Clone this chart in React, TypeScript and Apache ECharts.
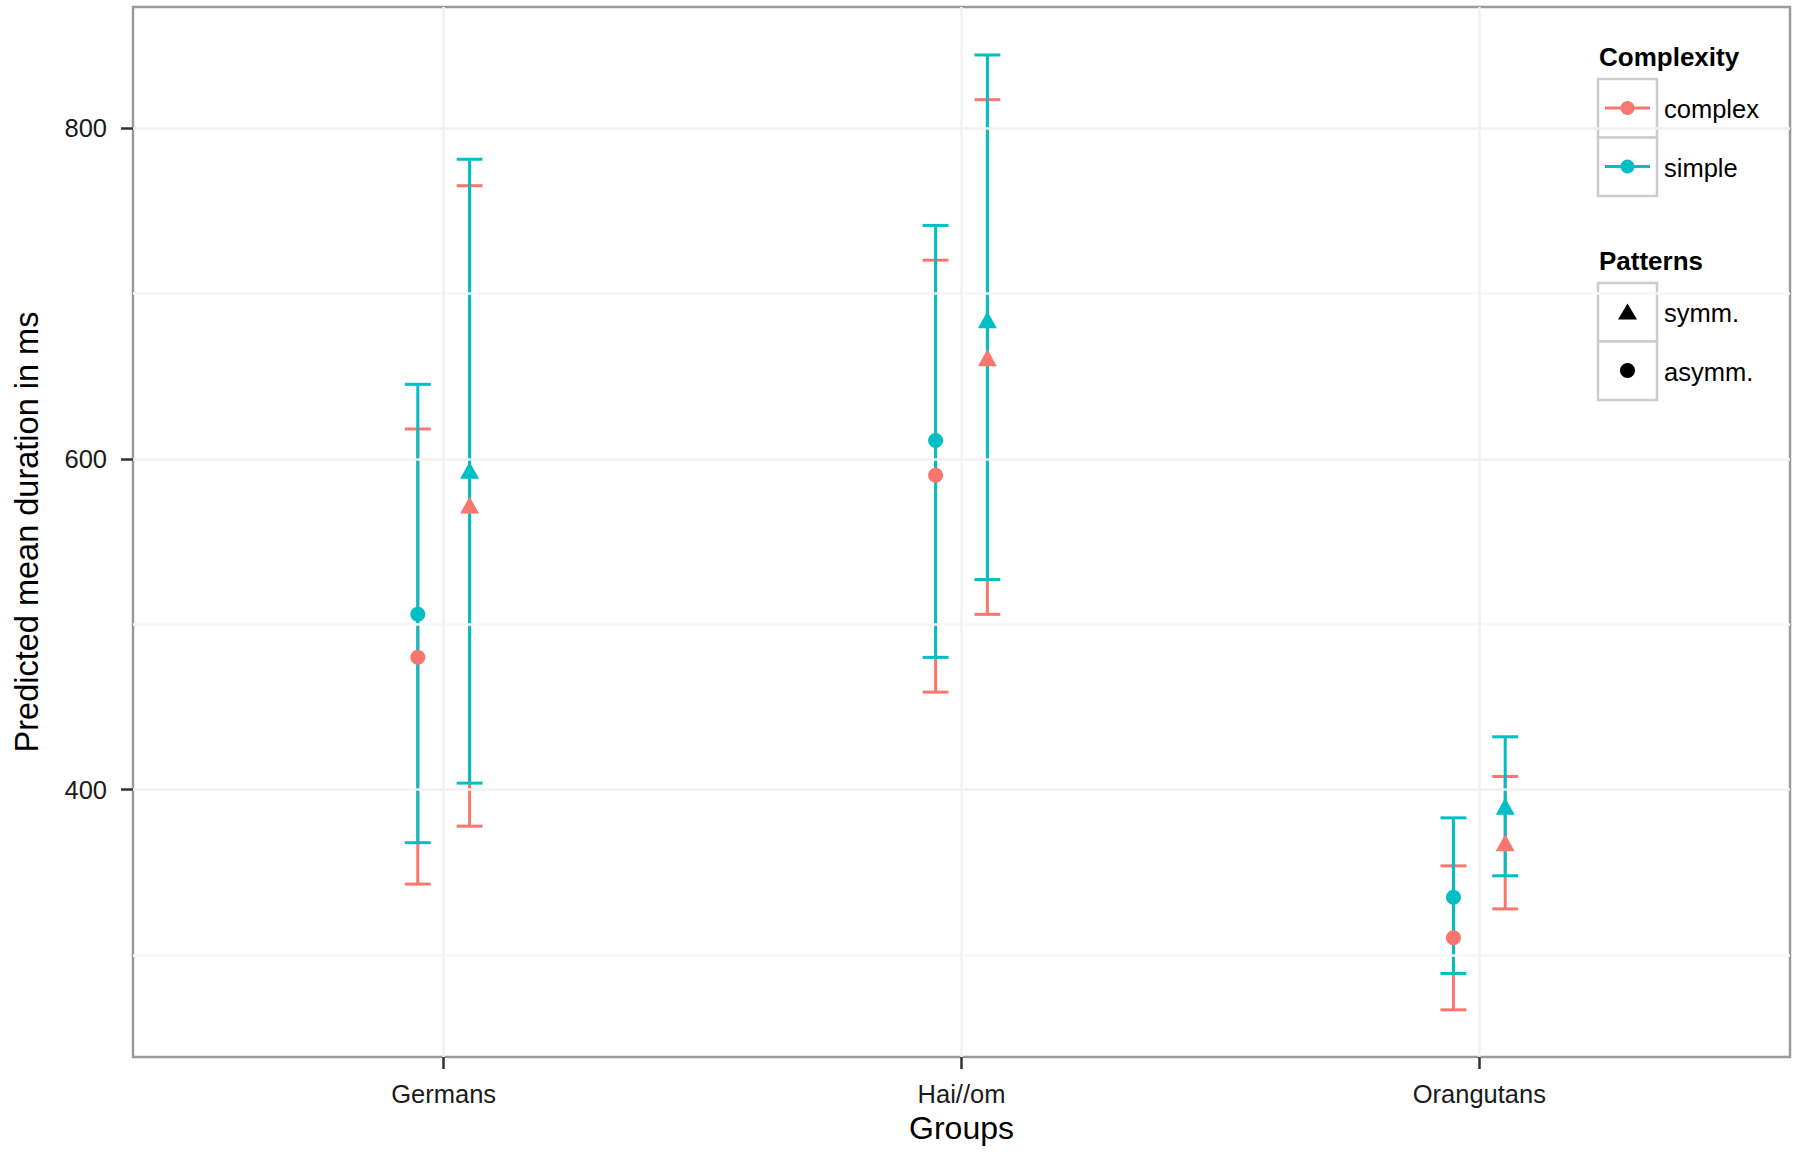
import React, { useEffect, useRef } from "react";
import * as echarts from "echarts";

// ---- Data ----
const groups = ["Germans", "Hai//om", "Orangutans"];
const groupPositions = [1, 2, 3];
const yTicks = [400, 600, 800];
const yMinorTicks = [300, 500, 700];

const complexAsymmMean = [480, 590, 310.5];
const complexAsymmLower = [343, 459, 267];
const complexAsymmUpper = [618, 720, 354];

const complexSymmMean = [572, 661, 368];
const complexSymmLower = [378, 506, 328];
const complexSymmUpper = [765, 817, 408];

const simpleAsymmMean = [506, 611, 335];
const simpleAsymmLower = [368, 480, 289];
const simpleAsymmUpper = [645, 741, 383];

const simpleSymmMean = [593, 684, 390];
const simpleSymmLower = [404, 527, 348];
const simpleSymmUpper = [781, 844, 432];

const DODGE = 0.05; // position_dodge offset (category units)
const CAP = 0.05; // error bar cap width (category units)

const RED = "#F8766D";
const TEAL = "#00BFC4";
const FONT = "Liberation Sans, Arial, Helvetica, sans-serif";

function errData(lower: number[], upper: number[], off: number) {
  return groupPositions.map((g, i) => [g + off, lower[i], upper[i]]);
}
function ptData(mean: number[], off: number) {
  return groupPositions.map((g, i) => [g + off, mean[i]]);
}

function errRender(color: string) {
  return (params: any, api: any) => {
    const x = api.value(0);
    const lo = api.coord([x, api.value(1)]);
    const hi = api.coord([x, api.value(2)]);
    const half = api.size([CAP / 2, 0])[0];
    const style = { stroke: color, lineWidth: 3, fill: null };
    return {
      type: "group",
      children: [
        { type: "line", shape: { x1: lo[0], y1: lo[1], x2: hi[0], y2: hi[1] }, style },
        { type: "line", shape: { x1: hi[0] - half, y1: hi[1], x2: hi[0] + half, y2: hi[1] }, style },
        { type: "line", shape: { x1: lo[0] - half, y1: lo[1], x2: lo[0] + half, y2: lo[1] }, style },
      ],
    };
  };
}

function errSeries(name: string, color: string, lower: number[], upper: number[], off: number) {
  return {
    type: "custom",
    name,
    renderItem: errRender(color),
    data: errData(lower, upper, off),
    z: 3,
    silent: true,
  };
}

function ptSeries(name: string, color: string, mean: number[], off: number, symbol: string) {
  return {
    type: "scatter",
    name,
    data: ptData(mean, off),
    symbol,
    symbolSize: symbol === "triangle" ? [19, 17] : 15,
    itemStyle: { color, opacity: 1 },
    z: 5,
    silent: true,
  };
}

function legendGraphics() {
  const keyX = 1598;
  const keyW = 59;
  const boxStyle = { fill: "#ffffff", stroke: "#cccccc", lineWidth: 2.5 };
  const titleStyle = { fontFamily: FONT, fontSize: 26, fontWeight: "bold", fill: "#000" };
  const textStyle = { fontFamily: FONT, fontSize: 25.5, fill: "#000" };
  const els: any[] = [];
  // Complexity
  els.push({ type: "text", x: 1599, y: 57, style: { ...titleStyle, text: "Complexity", verticalAlign: "middle" } });
  const compRows = [
    { label: "complex", color: RED, top: 79 },
    { label: "simple", color: TEAL, top: 137.5 },
  ];
  compRows.forEach((r) => {
    const cy = r.top + 29;
    els.push({ type: "rect", shape: { x: keyX, y: r.top, width: keyW, height: 58.5 }, style: boxStyle });
    els.push({ type: "line", shape: { x1: keyX + 7, y1: cy, x2: keyX + keyW - 7, y2: cy }, style: { stroke: r.color, lineWidth: 3 } });
    els.push({ type: "circle", shape: { cx: keyX + keyW / 2, cy, r: 7 }, style: { fill: r.color } });
    els.push({ type: "text", x: 1664, y: cy + 1, style: { ...textStyle, text: r.label, verticalAlign: "middle" } });
  });
  // Patterns
  els.push({ type: "text", x: 1599, y: 261, style: { ...titleStyle, text: "Patterns", verticalAlign: "middle" } });
  const patTops = [283, 341.5];
  const cx = keyX + keyW / 2;
  patTops.forEach((t) => {
    els.push({ type: "rect", shape: { x: keyX, y: t, width: keyW, height: 58.5 }, style: boxStyle });
  });
  const ty = patTops[0] + 29;
  els.push({
    type: "polygon",
    shape: { points: [[cx, ty - 8.5], [cx + 9.5, ty + 7.5], [cx - 9.5, ty + 7.5]] },
    style: { fill: "#000" },
  });
  els.push({ type: "text", x: 1664, y: ty + 1, style: { ...textStyle, text: "symm.", verticalAlign: "middle" } });
  const cy2 = patTops[1] + 29;
  els.push({ type: "circle", shape: { cx, cy: cy2, r: 7.5 }, style: { fill: "#000" } });
  els.push({ type: "text", x: 1664, y: cy2 + 1, style: { ...textStyle, text: "asymm.", verticalAlign: "middle" } });
  return els;
}

export default function App() {
  const ref = useRef<HTMLDivElement>(null);
  useEffect(() => {
    if (!ref.current) return;
    const chart = echarts.init(ref.current, undefined, { renderer: "svg" });
    const gridData = [
      ...yMinorTicks.map((v) => ({ yAxis: v, lineStyle: { color: "#f7f7f7", width: 2.5, type: "solid" } })),
      ...yTicks.map((v) => ({ yAxis: v, lineStyle: { color: "#f1f1f1", width: 2.5, type: "solid" } })),
      ...groupPositions.map((v) => ({ xAxis: v, lineStyle: { color: "#f1f1f1", width: 2.5, type: "solid" } })),
    ];
    chart.setOption({
      animation: false,
      backgroundColor: "#ffffff",
      textStyle: { fontFamily: FONT },
      grid: {
        left: 133,
        top: 7,
        width: 1657,
        height: 1050,
        show: true,
        borderColor: "#9a9a9a",
        borderWidth: 2.5,
        backgroundColor: "#ffffff",
      },
      xAxis: {
        type: "value",
        min: 0.4,
        max: 3.6,
        name: "Groups",
        nameLocation: "middle",
        nameGap: 54,
        nameTextStyle: { fontSize: 32, color: "#000", fontFamily: FONT },
        axisLine: { show: false },
        splitLine: { show: false },
        axisTick: { show: true, customValues: groupPositions, length: 12, lineStyle: { color: "#333", width: 2.5 } },
        axisLabel: {
          customValues: groupPositions,
          formatter: (v: number) => groups[Math.round(v) - 1] ?? "",
          fontSize: 25.5,
          color: "#1a1a1a",
          margin: 24,
          fontFamily: FONT,
        },
      },
      yAxis: {
        type: "value",
        min: 238.5,
        max: 873,
        name: "Predicted mean duration in ms",
        nameLocation: "middle",
        nameGap: 90,
        nameTextStyle: { fontSize: 32.5, color: "#000", fontFamily: FONT },
        axisLine: { show: false },
        splitLine: { show: false },
        axisTick: { show: true, customValues: yTicks, length: 12, lineStyle: { color: "#333", width: 2.5 } },
        axisLabel: { customValues: yTicks, fontSize: 25.5, color: "#1a1a1a", margin: 26, fontFamily: FONT },
      },
      series: [
        {
          type: "scatter",
          name: "grid",
          data: [],
          z: 1,
          silent: true,
          markLine: { silent: true, symbol: ["none", "none"], label: { show: false }, animation: false, data: gridData },
        },
        errSeries("complex asymm", RED, complexAsymmLower, complexAsymmUpper, -DODGE),
        errSeries("complex symm", RED, complexSymmLower, complexSymmUpper, DODGE),
        errSeries("simple asymm", TEAL, simpleAsymmLower, simpleAsymmUpper, -DODGE),
        errSeries("simple symm", TEAL, simpleSymmLower, simpleSymmUpper, DODGE),
        ptSeries("complex asymm pt", RED, complexAsymmMean, -DODGE, "circle"),
        ptSeries("complex symm pt", RED, complexSymmMean, DODGE, "triangle"),
        ptSeries("simple asymm pt", TEAL, simpleAsymmMean, -DODGE, "circle"),
        ptSeries("simple symm pt", TEAL, simpleSymmMean, DODGE, "triangle"),
      ],
      graphic: legendGraphics(),
    });
    return () => chart.dispose();
  }, []);
  return (
    <div
      ref={ref}
      style={{ position: "fixed", left: 0, top: 0, width: 1800, height: 1154, background: "#fff" }}
    />
  );
}
